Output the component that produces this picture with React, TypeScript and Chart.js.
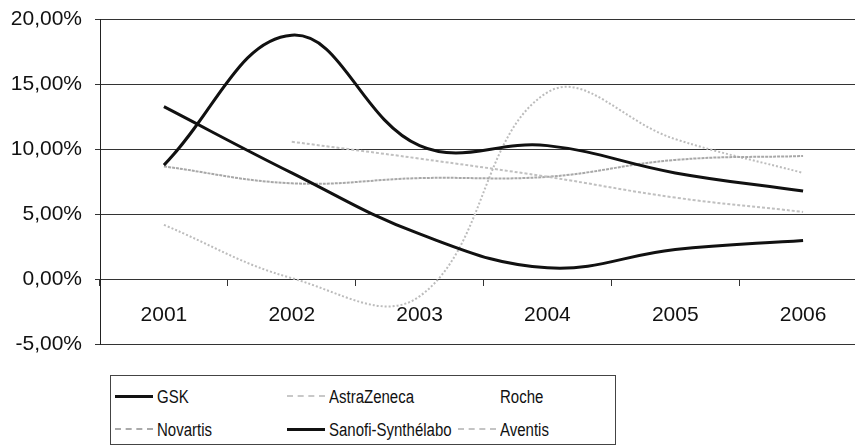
import React, { useEffect, useRef } from "react";
import { Chart, registerables } from "chart.js";
Chart.register(...registerables);

const YEARS = ["2001", "2002", "2003", "2004", "2005", "2006"];
const GSK = [8.8, 18.8, 10.3, 10.3, 8.2, 6.8];
const ASTRAZENECA = [null, 10.6, 9.3, 7.9, 6.3, 5.2];
const ROCHE = [null, null, null, null, null, null];
const NOVARTIS = [8.7, 7.4, 7.8, 7.9, 9.2, 9.5];
const SANOFI = [13.3, 8.2, 3.5, 0.9, 2.3, 3.0];
const AVENTIS = [4.2, 0.1, -1.3, 14.4, 10.8, 8.2];
const Y_TICKS = [-5, 0, 5, 10, 15, 20];

const FONT = "'Liberation Sans', Arial, Helvetica, sans-serif";

type LegendItem = { name: string; style: React.CSSProperties };
const LEGEND_ROWS: LegendItem[][] = [
  [
    { name: "GSK", style: { borderTop: "3px solid #111" } },
    { name: "AstraZeneca", style: { borderTop: "2px dashed #c8c8c8" } },
    { name: "Roche", style: { borderTop: "2px solid transparent" } },
  ],
  [
    { name: "Novartis", style: { borderTop: "2px dashed #aaaaaa" } },
    { name: "Sanofi-Synthélabo", style: { borderTop: "3px solid #111" } },
    { name: "Aventis", style: { borderTop: "2px dashed #c4c4c4" } },
  ],
];
const COL_X = [4, 176, 347];
const ROW_Y = [20, 53];

export default function App() {
  const ref = useRef<HTMLCanvasElement | null>(null);
  useEffect(() => {
    if (!ref.current) return;
    const grey = (c: string, dash: number[]) => ({
      borderColor: c,
      borderWidth: 2,
      borderDash: dash,
      order: 2,
    });
    const chart = new Chart(ref.current, {
      type: "line",
      data: {
        labels: YEARS,
        datasets: [
          { label: "GSK", data: GSK, borderColor: "#111", borderWidth: 3, order: 1 },
          { label: "AstraZeneca", data: ASTRAZENECA, ...grey("#c0c0c0", [3, 2]) },
          { label: "Roche", data: ROCHE, borderColor: "rgba(255,255,255,0)", borderWidth: 2, order: 3 },
          { label: "Novartis", data: NOVARTIS, ...grey("#a8a8a8", [3, 1]) },
          { label: "Sanofi-Synthélabo", data: SANOFI, borderColor: "#111", borderWidth: 3, order: 1 },
          { label: "Aventis", data: AVENTIS, ...grey("#bcbcbc", [2, 2]) },
        ] as any,
      },
      options: {
        animation: false,
        responsive: true,
        maintainAspectRatio: false,
        layout: { padding: { top: 0, right: 13, bottom: 0, left: 0 } },
        plugins: { legend: { display: false }, tooltip: { enabled: false } },
        elements: { point: { radius: 0 }, line: { tension: 0.4, fill: false } },
        scales: {
          x: {
            type: "category",
            offset: true,
            position: { y: 0 } as any,
            grid: {
              drawOnChartArea: false,
              offset: true,
              tickLength: 6,
              color: "#333",
              lineWidth: 1,
            },
            border: { color: "#333", width: 1 },
            ticks: {
              font: { family: FONT, size: 21 },
              color: "#111",
              padding: 17,
              maxRotation: 0,
            },
          },
          y: {
            min: -5,
            max: 20,
            afterBuildTicks: (scale: any) => {
              scale.ticks = Y_TICKS.map((v) => ({ value: v }));
            },
            afterFit: (scale: any) => {
              scale.width = 100;
            },
            grid: { color: "#333", lineWidth: 1, tickLength: 5 },
            border: { color: "#222", width: 1 },
            ticks: {
              font: { family: FONT, size: 21 },
              color: "#111",
              padding: 13,
              callback: (v: any) => Number(v).toFixed(2).replace(".", ",") + "%",
            },
          },
        },
      },
    });
    return () => chart.destroy();
  }, []);

  return (
    <div style={{ position: "fixed", left: 0, top: 0, width: 880, height: 446, background: "#fff", overflow: "hidden" }}>
      <div style={{ position: "absolute", left: 0, top: -6, width: 880, height: 376 }}>
        <canvas ref={ref} />
      </div>
      <div
        style={{
          position: "absolute",
          left: 110,
          top: 375,
          width: 504,
          height: 68,
          border: "1px solid #444",
          fontFamily: FONT,
          fontSize: 15,
          color: "#111",
          background: "#fff",
        }}
      >
        {LEGEND_ROWS.map((row, r) =>
          row.map((item, c) => (
            <div
              key={item.name}
              style={{
                position: "absolute",
                left: COL_X[c],
                top: ROW_Y[r] - 10,
                height: 20,
                display: "flex",
                alignItems: "center",
                whiteSpace: "nowrap",
              }}
            >
              <div style={{ width: 38, height: 0, marginRight: 4, ...item.style }} />
              <span style={{ display: "inline-block", transform: "scaleY(1.2)" }}>{item.name}</span>
            </div>
          ))
        )}
      </div>
    </div>
  );
}
